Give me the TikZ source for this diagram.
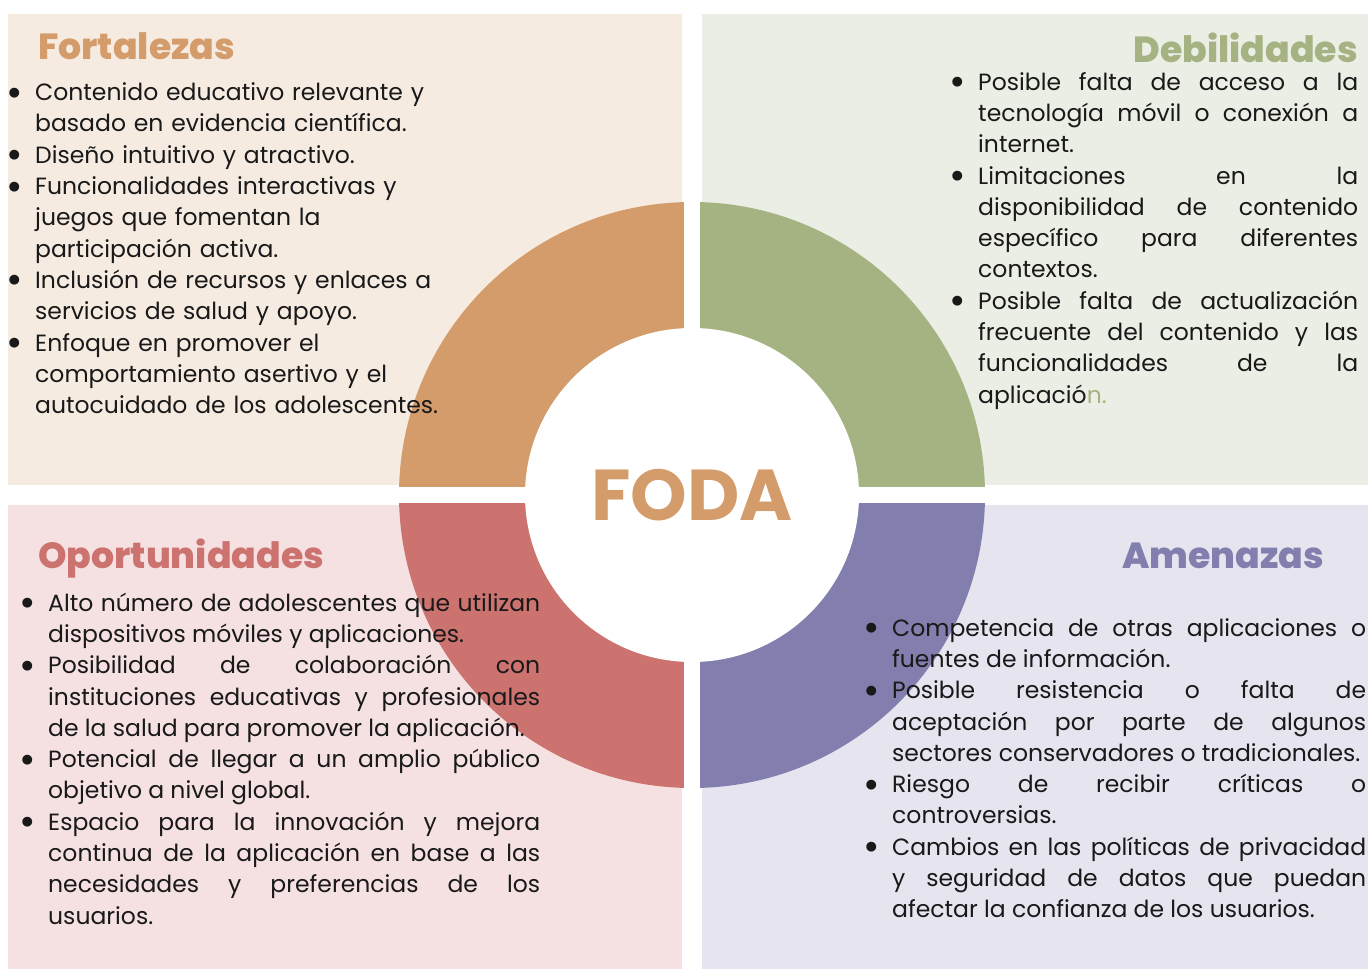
\documentclass[tikz,border=0pt]{standalone}
\usepackage{fontspec}
\setmainfont{Poppins}
\newfontfamily\titlefont{Poppins ExtraBold}
\usepackage{xcolor}

\definecolor{foOrange}{HTML}{D49C6A}
\definecolor{foGreen}{HTML}{A5B382}
\definecolor{foRed}{HTML}{CC7370}
\definecolor{foPurple}{HTML}{827EAD}
\definecolor{bgOrange}{HTML}{F5EBE1}
\definecolor{bgGreen}{HTML}{EBEEE5}
\definecolor{bgRed}{HTML}{F5E1E2}
\definecolor{bgPurple}{HTML}{E6E4EF}

\newcommand{\fbullet}{\makebox[10pt]{\raisebox{-5.5pt}{\fontsize{40}{40}\selectfont\textbullet}}}
\newcommand{\fitem}{\par\noindent\hangindent=25pt\hangafter=1\strut\makebox[25pt][l]{\fbullet}}

\begin{document}
\begin{tikzpicture}[x=1pt, y=-1pt,
    title/.style={inner sep=0pt, font={\titlefont\fontsize{36.3}{40}\selectfont}},
    body/.style={inner sep=0pt, anchor=north west, text=black!90,
      font={\fontsize{23.5}{31.3}\selectfont}}]

        \useasboundingbox (0,0) rectangle (1368,969);

        % fondos
        \fill[bgOrange] (8,14) rectangle (682,485);
        \fill[bgGreen] (702,14) rectangle (1368,485);
        \fill[bgRed] (8,505) rectangle (682,969);
        \fill[bgPurple] (702,505) rectangle (1368,969);

        % anillo
        \coordinate (ctr) at (692,495);
        \foreach \col/\ang in {foOrange/180, foGreen/270, foPurple/0, foRed/90}
          \fill[\col] (ctr) -- ++(\ang:293) arc[start angle=\ang, delta angle=90, radius=293] -- cycle;
        \fill[white] (684,195) rectangle (700,795);
        \fill[white] (390,487) rectangle (995,503);
        \fill[white] (ctr) circle[radius=167];

        \node[anchor=base, text=foOrange, font={\bfseries\fontsize{72}{72}\selectfont}] (foda) at (692,520) {FODA};

        \node[title, anchor=base west, text=foOrange] (fortalezas) at (38,59) {Fortalezas};
        \node[title, anchor=base east, text=foGreen] (debilidades) at (1358,62) {Debilidades};
        \node[title, anchor=base west, text=foRed] (oportunidades) at (38,568) {Oportunidades};
        \node[title, anchor=base east, text=foPurple] (amenazas) at (1324,568) {Amenazas};

        \node[body, text width=440, align=left] (fortList) at (10,69.1) {%
          \fitem Contenido educativo relevante y\linebreak basado en evidencia científica.
          \fitem Diseño intuitivo y atractivo.
          \fitem Funcionalidades interactivas y\linebreak juegos que fomentan la\linebreak participación activa.
          \fitem Inclusión de recursos y enlaces a\linebreak servicios de salud y apoyo.
          \fitem Enfoque en promover el\linebreak comportamiento asertivo y el\linebreak autocuidado de los adolescentes.\par};

        \node[body, text width=405, align=justify] (debList) at (953,58.6) {%
          \fitem Posible falta de acceso a la\linebreak tecnología móvil o conexión a\linebreak internet.
          \fitem Limitaciones en la\linebreak disponibilidad de contenido\linebreak específico para diferentes\linebreak contextos.
          \fitem Posible falta de actualización\linebreak frecuente del contenido y las\linebreak funcionalidades de la\linebreak aplicació\textcolor{foGreen}{n.}\par};

        \node[body, text width=517, align=justify] (oporList) at (23,579.6) {%
          \fitem Alto número de adolescentes que utilizan\linebreak dispositivos móviles y aplicaciones.
          \fitem Posibilidad de colaboración con\linebreak instituciones educativas y profesionales\linebreak de la salud para promover la aplicación.
          \fitem Potencial de llegar a un amplio público\linebreak objetivo a nivel global.
          \fitem Espacio para la innovación y mejora\linebreak continua de la aplicación en base a las\linebreak necesidades y preferencias de los\linebreak usuarios.\par};

        \node[body, text width=499, align=justify] (amenList) at (867,604.6) {%
          \fitem Competencia de otras aplicaciones o\linebreak fuentes de información.
          \fitem Posible resistencia o falta de\linebreak aceptación por parte de algunos\linebreak sectores conservadores o tradicionales.
          \fitem Riesgo de recibir críticas o\linebreak controversias.
          \fitem Cambios en las políticas de privacidad\linebreak y seguridad de datos que puedan\linebreak afectar la confianza de los usuarios.\par};

      \end{tikzpicture}
\end{document}
